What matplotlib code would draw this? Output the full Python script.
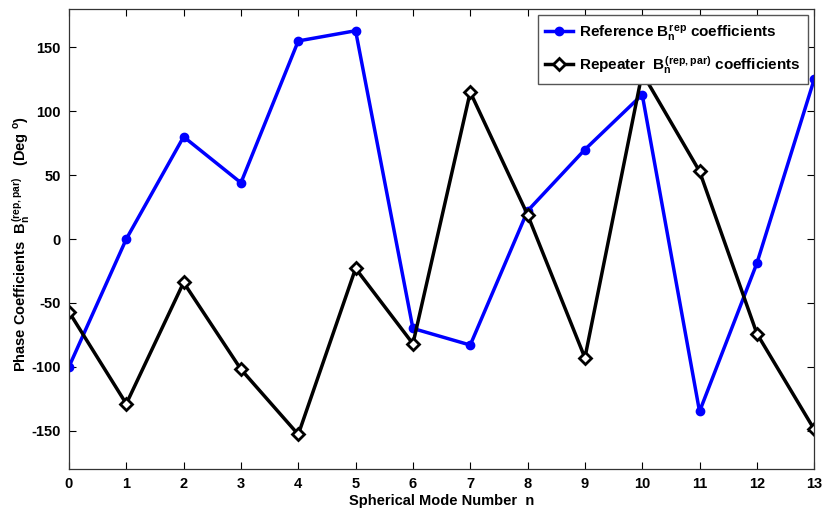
import numpy as np
import matplotlib
matplotlib.use('Agg')
from matplotlib import pyplot as plt

# spherical mode numbers and phase coefficients (deg)
modes = np.arange(0, 14)
ref_phase = [-100, 0, 80, 44, 155, 163, -70, -83, 22, 70, 113, -135, -19, 125]
rep_phase = [-57, -129, -34, -102, -153, -23, -82, 115, 19, -93, 130, 53, -74, -149]

plt.rcParams['font.family'] = 'Liberation Sans'
plt.rcParams['font.weight'] = 'bold'
plt.rcParams['axes.unicode_minus'] = False
plt.rcParams['mathtext.fontset'] = 'custom'
plt.rcParams['mathtext.rm'] = 'Liberation Sans:bold'
plt.rcParams['mathtext.it'] = 'Liberation Sans:bold'
plt.rcParams['mathtext.bf'] = 'Liberation Sans:bold'

fig = plt.figure(figsize=(8.24, 5.09), dpi=100)
ax1 = fig.add_axes([0.0837, 0.0786, 0.9044, 0.9037])

ax1.plot(modes, ref_phase, color='#0000ff', linewidth=2.5, marker='o',
         markersize=6, label=r'Reference $B_n^{rep}$ coefficients')
ax1.plot(modes, rep_phase, color='black', linewidth=2.5, marker='D',
         markersize=6.5, markerfacecolor='white', markeredgewidth=2,
         label=r'Repeater  $B_n^{(rep,par)}$ coefficients')

ax1.set_xlim(0, 13)
ax1.set_ylim(-180, 180)
ax1.set_xticks(modes)
ax1.set_yticks([-150, -100, -50, 0, 50, 100, 150])
ax1.tick_params(axis='both', which='major', labelsize=10.5, direction='in',
                top=True, right=True, length=5, width=0.8, pad=6)
for sp in ax1.spines.values():
    sp.set_color('#333333')
    sp.set_linewidth(0.9)

ax1.set_xlabel('Spherical Mode Number  n', fontsize=10.5, fontweight='bold', labelpad=2)
ax1.set_ylabel(r'Phase Coefficients  $B_n^{(rep,par)}$   (Deg $^o$)', fontsize=10.5,
               fontweight='bold')
ax1.yaxis.set_label_coords(-0.05, 0.49)

leg = ax1.legend(loc='upper right', fontsize=11, fancybox=False, framealpha=1,
                 edgecolor='#555555', borderaxespad=0.4, handlelength=1.8,
                 handletextpad=0.4, labelspacing=0.75, borderpad=0.5)
leg.get_frame().set_linewidth(1)

plt.savefig('out.png', dpi=100)
